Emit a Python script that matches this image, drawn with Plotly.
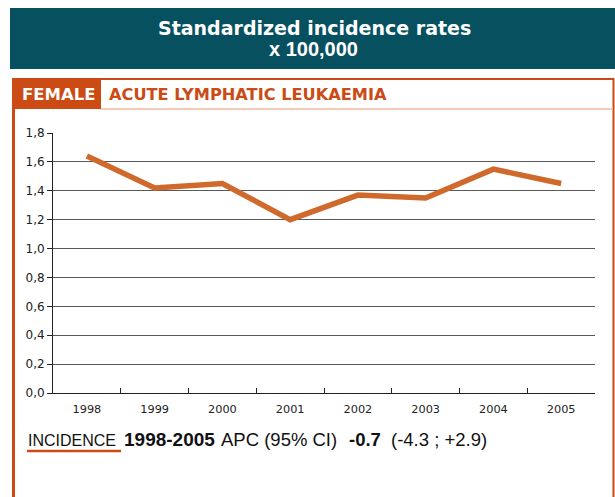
import plotly.graph_objects as go

years = ["1998", "1999", "2000", "2001", "2002", "2003", "2004", "2005"]
rates = [1.64, 1.42, 1.45, 1.20, 1.37, 1.35, 1.55, 1.45]
y_ticks = [0.0, 0.2, 0.4, 0.6, 0.8, 1.0, 1.2, 1.4, 1.6, 1.8]

W, H = 615, 497
L, R, T, B = 53, 20, 133, 104
PW, PH = W - L - R, H - T - B

def px(x):
    return (x - L) / PW

def py(y):
    return (H - B - y) / PH

ORANGE = "#CC4A14"
TEAL = "#06505F"
LINE = "#D06A2C"
HEL = "Liberation Sans, Arial, sans-serif"
DJV = "DejaVu Sans, sans-serif"

fig = go.Figure()
fig.add_trace(go.Scatter(
    x=years, y=rates, mode="lines",
    line=dict(color=LINE, width=5.5),
    hoverinfo="skip", showlegend=False,
))

shapes = [
    dict(type="rect", xref="paper", yref="paper", x0=px(10), x1=px(617), y0=py(69), y1=py(8),
         fillcolor=TEAL, line=dict(width=0), layer="below"),
    dict(type="line", xref="paper", yref="paper", x0=px(12), x1=px(614), y0=py(79), y1=py(79),
         line=dict(color=ORANGE, width=2)),
    dict(type="line", xref="paper", yref="paper", x0=px(13.5), x1=px(13.5), y0=py(78), y1=py(499),
         line=dict(color=ORANGE, width=3)),
    dict(type="line", xref="paper", yref="paper", x0=px(613.5), x1=px(613.5), y0=py(78), y1=py(499),
         line=dict(color=ORANGE, width=2)),
    dict(type="line", xref="paper", yref="paper", x0=px(100), x1=px(613), y0=py(109), y1=py(109),
         line=dict(color="#F0B8A0", width=1.5)),
    dict(type="rect", xref="paper", yref="paper", x0=px(12), x1=px(101), y0=py(109), y1=py(78),
         fillcolor=ORANGE, line=dict(width=0)),
    dict(type="line", xref="paper", yref="paper", x0=px(27), x1=px(121), y0=py(451), y1=py(451),
         line=dict(color=ORANGE, width=2.5)),
]

def ann(text, x, y, size, color, family=HEL, anchor="left"):
    return dict(text=text, xref="paper", yref="paper", x=px(x), y=py(y),
                xanchor=anchor, yanchor="middle", showarrow=False,
                font=dict(family=family, size=size, color=color))

annotations = [
    ann("<b>Standardized incidence rates</b>", 314, 28, 19, "white", DJV, "center"),
    ann("<b>x 100,000</b>", 313, 48.5, 20, "white", HEL, "center"),
    ann("<b>FEMALE</b>", 20, 94, 16.5, "white", DJV),
    ann("<b>ACUTE LYMPHATIC LEUKAEMIA</b>", 107, 94, 16.2, ORANGE, DJV),
    ann("INCIDENCE", 26, 440, 16, "#111", HEL),
    ann("<b>1998-2005</b>", 122, 439.5, 19, "#111", HEL),
    ann("APC (95% CI)", 219, 439.5, 18.5, "#111", HEL),
    ann("<b>-0.7</b>", 347, 439.5, 18.5, "#111", HEL),
    ann("(-4.3 ; +2.9)", 489, 439.5, 18.5, "#111", HEL, "right"),
]

fig.update_layout(
    width=W, height=H,
    margin=dict(l=L, r=R, t=T, b=B, pad=0),
    paper_bgcolor="white", plot_bgcolor="white",
    separators=",.",
    shapes=shapes, annotations=annotations,
    font=dict(family=HEL, color="#222"),
    xaxis=dict(
        type="category", showgrid=False, showline=True, linecolor="#222", linewidth=1,
        ticks="inside", tickson="boundaries", ticklen=5, tickcolor="#222",
        ticklabelstandoff=5,
        tickfont=dict(family=DJV, size=11.3, color="#222"), range=[-0.5, 7.5], fixedrange=True,
        zeroline=False,
    ),
    yaxis=dict(
        range=[0, 1.8], tickvals=y_ticks, tickformat=".1f",
        showgrid=True, gridcolor="#5a5a5a", gridwidth=1.2,
        showline=True, linecolor="#222", linewidth=1,
        ticks="outside", ticklen=5, tickcolor="#222",
        tickfont=dict(family=DJV, size=12, color="#222"), zeroline=False, fixedrange=True,
    ),
)

fig.write_html("out.html", config={"displayModeBar": False},
               post_script="document.body.style.margin='0px';document.body.style.overflow='hidden';")
